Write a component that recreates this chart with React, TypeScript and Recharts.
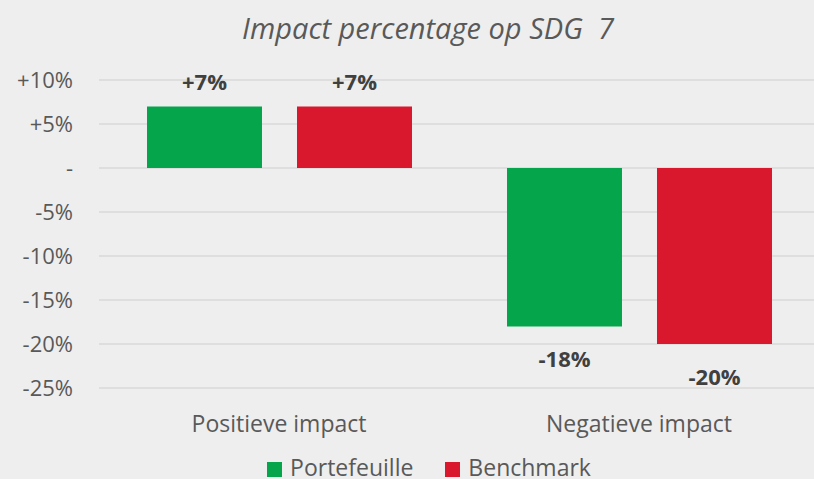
import React from "react";
import {
  BarChart,
  Bar,
  XAxis,
  YAxis,
  CartesianGrid,
  Legend,
  LabelList,
} from "recharts";

const categories = ["Positieve impact", "Negatieve impact"];
const portefeuille = [7, -18];
const benchmark = [7, -20];
const yTicks = [10, 5, 0, -5, -10, -15, -20, -25];
const seriesOrder = ["Portefeuille", "Benchmark"];

const GREEN = "#05a64b";
const RED = "#d9182d";
const FONT = "'Open Sans', 'Noto Sans', sans-serif";

const data = categories.map((name, i) => ({
  name,
  portefeuille: portefeuille[i],
  benchmark: benchmark[i],
}));

const fmtTick = (v: number) => (v > 0 ? `+${v}%` : v === 0 ? "-" : `${v}%`);

// label boven (positief) of onder (negatief) de balk
const valueLabel = (props: any) => {
  const { x, y, width, height, value } = props;
  const top = Math.min(y, y + height);
  const bottom = Math.max(y, y + height);
  const ty = value >= 0 ? top - 25 : bottom + 32;
  return (
    <text
      x={x + width / 2}
      y={ty}
      textAnchor="middle"
      dominantBaseline="central"
      fill="#404040"
      fontSize={22}
      fontWeight={700}
      fontFamily={FONT}
    >
      {fmtTick(value)}
    </text>
  );
};

export default function App() {
  return (
    <div
      style={{
        position: "absolute",
        left: 0,
        top: 0,
        width: 814,
        height: 479,
        background: "#eeeeee",
        fontFamily: FONT,
      }}
    >
      <div
        style={{
          position: "absolute",
          left: 0,
          width: 856,
          top: 8,
          textAlign: "center",
          fontSize: 29,
          fontStyle: "italic",
          color: "#595959",
        }}
      >
        Impact percentage op SDG&nbsp; 7
      </div>
      <BarChart
        width={814}
        height={479}
        data={data}
        margin={{ top: 80, right: -5, bottom: 41, left: 0 }}
        barCategoryGap={48}
        barGap={35}
      >
        <CartesianGrid vertical={false} stroke="#d9d9d9" strokeWidth={1.5} />
        <XAxis
          dataKey="name"
          axisLine={false}
          tickLine={false}
          height={50}
          tick={{ fill: "#595959", fontSize: 23, fontFamily: FONT, dy: 20 }}
        />
        <YAxis
          domain={[-25, 10]}
          ticks={yTicks}
          tickFormatter={fmtTick}
          axisLine={false}
          tickLine={false}
          width={99}
          tick={{ fill: "#595959", fontSize: 22, fontFamily: FONT, dx: -18 }}
        />
        <Legend
          verticalAlign="middle"
          align="center"
          layout="horizontal"
          iconType="square"
          iconSize={15}
          itemSorter={(item: any) => seriesOrder.indexOf(item.value)}
          wrapperStyle={{
            top: 457,
            left: 27,
            width: 814,
            fontSize: 23,
            lineHeight: "20px",
            fontFamily: FONT,
          }}
          formatter={(v: string) => (
            <span
              style={{
                color: "#595959",
                paddingLeft: 4,
                paddingRight: v === seriesOrder[0] ? 22 : 0,
              }}
            >
              {v}
            </span>
          )}
        />
        <Bar dataKey="portefeuille" name="Portefeuille" fill={GREEN} isAnimationActive={false}>
          <LabelList dataKey="portefeuille" content={valueLabel} />
        </Bar>
        <Bar dataKey="benchmark" name="Benchmark" fill={RED} isAnimationActive={false}>
          <LabelList dataKey="benchmark" content={valueLabel} />
        </Bar>
      </BarChart>
    </div>
  );
}
